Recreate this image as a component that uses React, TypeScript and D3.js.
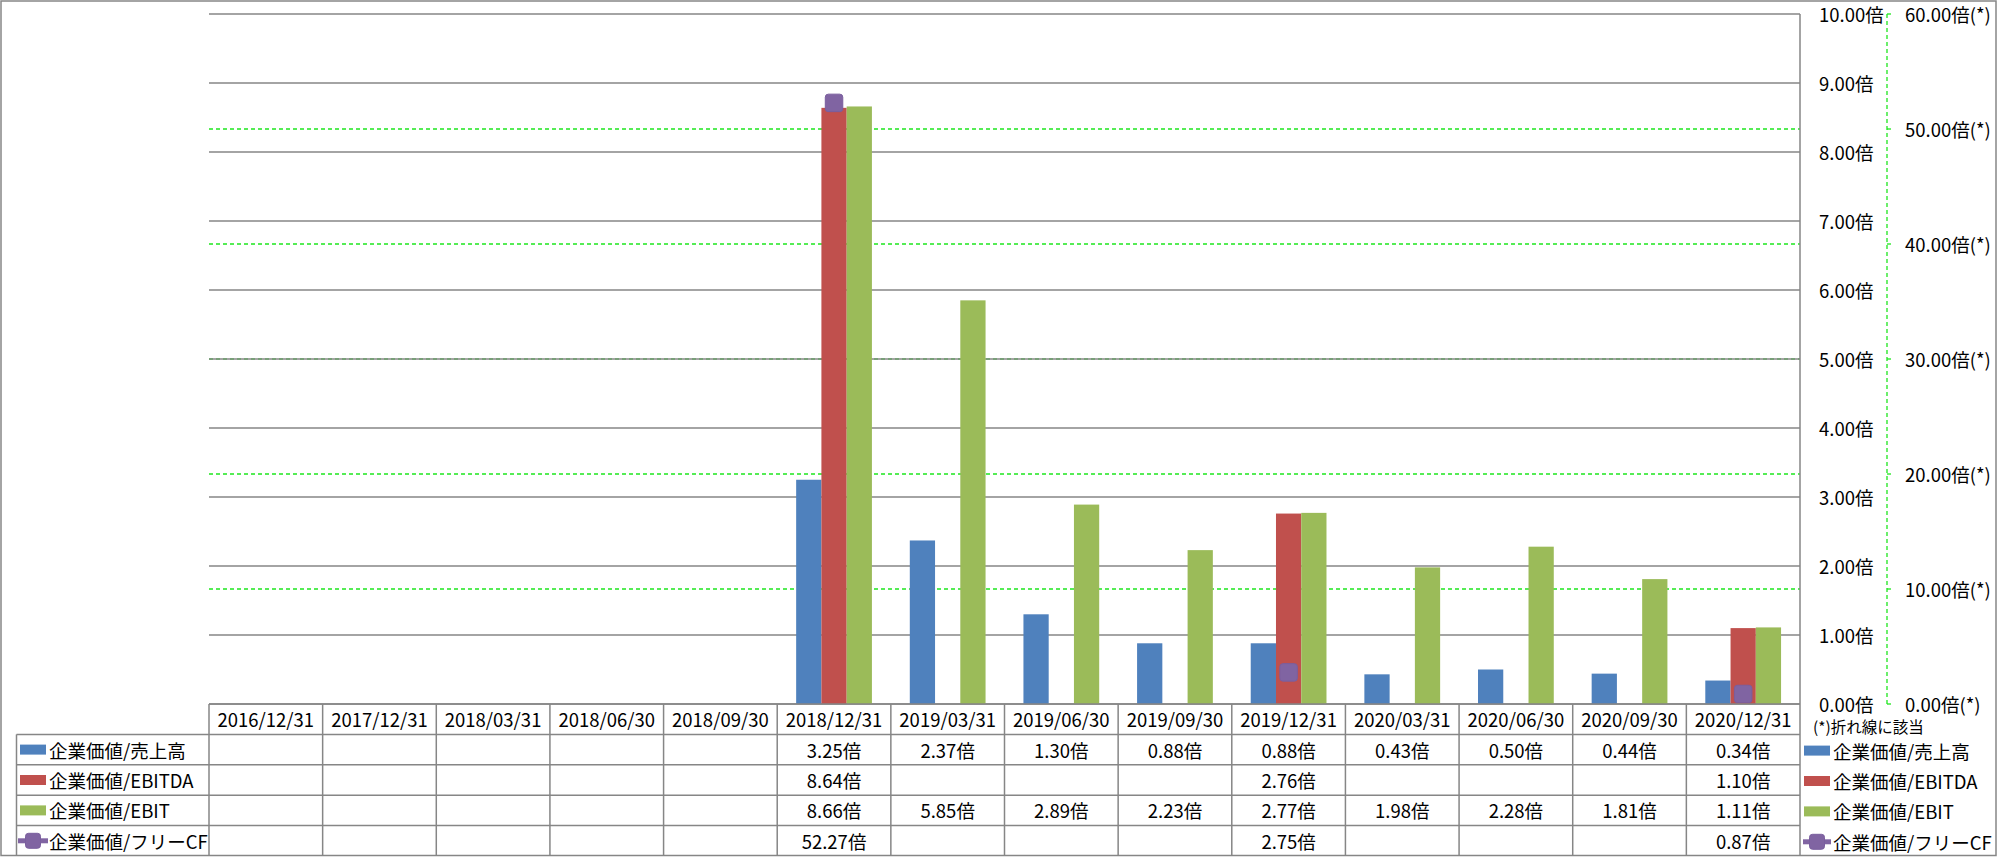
import React from "react";
import * as d3 from "d3";

const categories = [
  "2016/12/31", "2017/12/31", "2018/03/31", "2018/06/30", "2018/09/30",
  "2018/12/31", "2019/03/31", "2019/06/30", "2019/09/30", "2019/12/31",
  "2020/03/31", "2020/06/30", "2020/09/30", "2020/12/31",
];
const evSales: (number | null)[] = [null, null, null, null, null, 3.25, 2.37, 1.30, 0.88, 0.88, 0.43, 0.50, 0.44, 0.34];
const evEbitda: (number | null)[] = [null, null, null, null, null, 8.64, null, null, null, 2.76, null, null, null, 1.10];
const evEbit: (number | null)[] = [null, null, null, null, null, 8.66, 5.85, 2.89, 2.23, 2.77, 1.98, 2.28, 1.81, 1.11];
const evFcf: (number | null)[] = [null, null, null, null, null, 52.27, null, null, null, 2.75, null, null, null, 0.87];

const barSeriesNames = ["企業価値/売上高", "企業価値/EBITDA", "企業価値/EBIT"];
const lineSeriesName = "企業価値/フリーCF";
const barColors = ["#4F81BD", "#C0504D", "#9BBB59"];
const lineColor = "#8064A2";
const primaryTicks = [0, 1, 2, 3, 4, 5, 6, 7, 8, 9, 10];
const secondaryTicks = [0, 10, 20, 30, 40, 50, 60];
const noteText = "(*)折れ線に該当";

const W = 1997;
const H = 858;
const FONT = "'Noto Sans CJK JP', 'Noto Sans', sans-serif";
const GRID = "#868686";
const GREEN = "#1EE61E";

export default function App() {
  const left = 209, right = 1800, top = 14, bottom = 704;
  const x = d3.scaleBand<string>().domain(categories).range([left, right]).padding(0);
  const inner = d3.scaleBand<string>().domain(barSeriesNames).range([0, x.bandwidth()]).paddingInner(0).paddingOuter(0.75);
  const y = d3.scaleLinear().domain([0, 10]).range([bottom, top]);
  const y2 = d3.scaleLinear().domain([0, 60]).range([bottom, top]);
  const barData = [evSales, evEbitda, evEbit];
  const allRows = [...barData, evFcf];
  const rowNames = [...barSeriesNames, lineSeriesName];

  const rowH = (856 - bottom) / 5;
  const rowY = (i: number) => bottom + rowH * i; // i=0 header top
  const tableLeft = 16.5;
  const fs = 18.5;

  const line = d3.line<number | null>()
    .defined((d) => d != null)
    .x((_, i) => (x(categories[i]) as number) + x.bandwidth() / 2)
    .y((d) => y2(d as number));

  const marker = (cx: number, cy: number, s: number, key: string) => (
    <rect key={key} x={cx - s / 2} y={cy - s / 2} width={s} height={s} rx={3} ry={3}
      fill={lineColor} stroke="#7A5E9E" strokeWidth={1} />
  );

  return (
    <svg width={W} height={H} style={{ position: "absolute", left: 0, top: 0, fontFamily: FONT }}>
      <rect x={1} y={1} width={W - 2} height={854.5} fill="#fff" stroke={GRID} strokeWidth={1.5} />

      {/* secondary dashed gridlines */}
      {secondaryTicks.filter((t) => t > 0 && t < 60).map((t) => (
        <line key={"g2" + t} x1={left} x2={right} y1={y2(t)} y2={y2(t)} stroke={GREEN} strokeWidth={1.3} strokeDasharray="4 3" />
      ))}
      {/* primary gridlines */}
      {primaryTicks.map((t) => (
        <line key={"g" + t} x1={left} x2={right} y1={y(t)} y2={y(t)} stroke={GRID} strokeWidth={1.5} />
      ))}

      {/* bars */}
      {barData.map((series, si) =>
        series.map((v, ci) =>
          v == null ? null : (
            <rect key={`b${si}-${ci}`}
              x={(x(categories[ci]) as number) + (inner(barSeriesNames[si]) as number)}
              y={y(v)} width={inner.bandwidth()} height={y(0) - y(v)} fill={barColors[si]} />
          )
        )
      )}

      {/* line series */}
      <path d={line(evFcf) || ""} fill="none" stroke={lineColor} strokeWidth={4} />
      {evFcf.map((v, ci) =>
        v == null ? null : marker((x(categories[ci]) as number) + x.bandwidth() / 2, y2(v), 17.5, "m" + ci)
      )}

      {/* right edge of plot */}
      <line x1={right} x2={right} y1={top} y2={856} stroke={GRID} strokeWidth={1.5} />

      {/* primary axis labels */}
      {primaryTicks.map((t) => (
        <text key={"pl" + t} x={1819} y={y(t)} dominantBaseline="central" fontSize={fs} fill="#000">
          {t.toFixed(2) + "倍"}
        </text>
      ))}
      {/* secondary axis */}
      <line x1={1887} x2={1887} y1={top} y2={bottom} stroke={GREEN} strokeWidth={1.3} strokeDasharray="4 3" />
      {secondaryTicks.map((t) => (
        <g key={"sl" + t}>
          <line x1={1887} x2={1891} y1={y2(t)} y2={y2(t)} stroke={GREEN} strokeWidth={1.3} />
          <text x={1905} y={y2(t)} dominantBaseline="central" fontSize={fs} fill="#000">
            {t.toFixed(2) + "倍(*)"}
          </text>
        </g>
      ))}

      {/* data table */}
      <line x1={left} x2={right} y1={rowY(0)} y2={rowY(0)} stroke={GRID} strokeWidth={1.5} />
      {[1, 2, 3, 4].map((r) => (
        <line key={"hr" + r} x1={tableLeft} x2={right} y1={rowY(r)} y2={rowY(r)} stroke={GRID} strokeWidth={1.5} />
      ))}
      <line x1={tableLeft} x2={tableLeft} y1={rowY(1)} y2={856} stroke={GRID} strokeWidth={1.5} />
      {categories.map((c, i) => (
        <line key={"vl" + i} x1={x(c) as number} x2={x(c) as number} y1={rowY(0)} y2={856} stroke={GRID} strokeWidth={1.5} />
      ))}
      {categories.map((c) => (
        <text key={"h" + c} x={(x(c) as number) + x.bandwidth() / 2} y={rowY(0) + rowH / 2} textAnchor="middle"
          dominantBaseline="central" fontSize={fs} fill="#000">{c}</text>
      ))}
      {allRows.map((series, ri) =>
        series.map((v, ci) =>
          v == null ? null : (
            <text key={`t${ri}-${ci}`} x={(x(categories[ci]) as number) + x.bandwidth() / 2}
              y={rowY(ri + 1) + rowH / 2} textAnchor="middle" dominantBaseline="central" fontSize={fs} fill="#000">
              {v.toFixed(2) + "倍"}
            </text>
          )
        )
      )}
      {/* table legend keys */}
      {rowNames.map((n, ri) => {
        const cy = rowY(ri + 1) + rowH / 2;
        return (
          <g key={"lk" + ri}>
            {ri < 3 ? (
              <rect x={20} y={cy - 5} width={26} height={10} fill={barColors[ri]} />
            ) : (
              <g>
                <line x1={18} x2={48} y1={cy} y2={cy} stroke={lineColor} strokeWidth={5} />
                {marker(33, cy, 15, "lm")}
              </g>
            )}
            <text x={49} y={cy} dominantBaseline="central" fontSize={fs} fill="#000">{n}</text>
          </g>
        );
      })}

      {/* right legend */}
      <text x={1813} y={726} dominantBaseline="central" fontSize={15.5} fill="#000">{noteText}</text>
      {rowNames.map((n, ri) => {
        const cy = rowY(ri + 1) + rowH / 2 + 1;
        return (
          <g key={"rl" + ri}>
            {ri < 3 ? (
              <rect x={1804} y={cy - 5} width={26} height={10} fill={barColors[ri]} />
            ) : (
              <g>
                <line x1={1803} x2={1831} y1={cy} y2={cy} stroke={lineColor} strokeWidth={5} />
                {marker(1817, cy, 15, "rm")}
              </g>
            )}
            <text x={1833} y={cy} dominantBaseline="central" fontSize={fs} fill="#000">{n}</text>
          </g>
        );
      })}
    </svg>
  );
}
